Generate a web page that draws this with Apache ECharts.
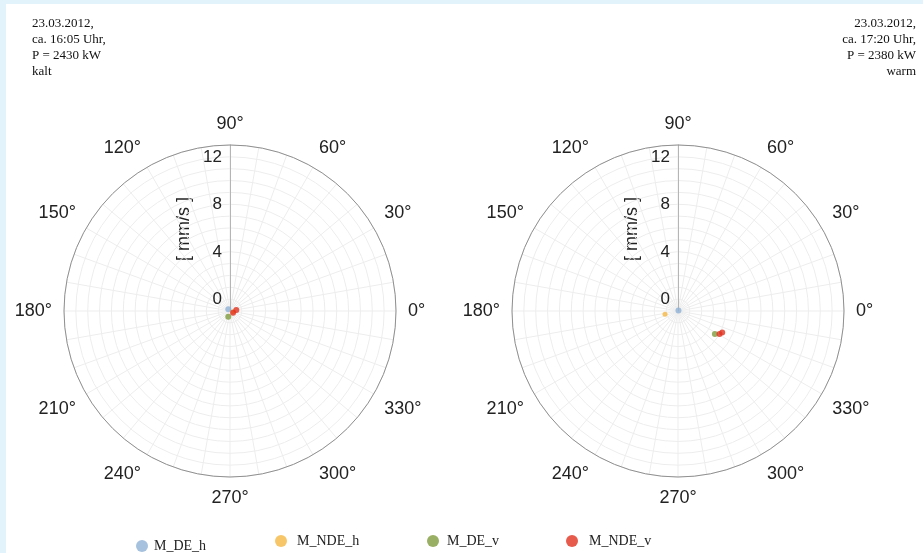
<!DOCTYPE html>
<html>
<head>
<meta charset="utf-8">
<script src="https://cdn.jsdelivr.net/npm/echarts@6/dist/echarts.min.js"></script>
<style>
  html, body { margin: 0; padding: 0; width: 923px; height: 553px; background: #e3f3fb; overflow: hidden; }
  #chart { position: absolute; left: 6px; top: 4px; width: 917px; height: 549px; background: #ffffff; }
</style>
</head>
<body>
<div id="chart"></div>
<script>
// Vibration measurements, polar plots: [radius in mm/s, angle in degrees]
const seriesNames = ['M_DE_h', 'M_NDE_h', 'M_DE_v', 'M_NDE_v'];
const seriesColors = ['#8fb1d6', '#f5b843', '#7f9b3c', '#e0321f'];

// cold state (16:05)
const coldDEh  = [[0.20, 135]];
const coldNDEh = [[0.27, 345]];
const coldDEv  = [[0.50, 253]];
const coldNDEv = [[0.30, 330], [0.54, 10]];

// warm state (17:20)
const warmDEh  = [[0.06, 50]];
const warmNDEh = [[1.13, 194]];
const warmDEv  = [[3.67, 328]];
const warmNDEv = [[4.00, 331], [4.15, 334]];

const radiusTicks = [0, 4, 8, 12];
const angleTickLabels = [0, 30, 60, 90, 120, 150, 180, 210, 240, 270, 300, 330];
const radiusUnit = '[ mm/s ]';

const leftNote = ['23.03.2012,', 'ca. 16:05 Uhr,', 'P = 2430 kW', 'kalt'];
const rightNote = ['23.03.2012,', 'ca. 17:20 Uhr,', 'P = 2380 kW', 'warm'];

// angle axis runs from 90 to 450 so the radius axis stands at 90°
const wrapAngle = a => (a < 90 ? a + 360 : a);
const toPolar = arr => arr.map(p => [p[0], wrapAngle(p[1])]);

const sansFont = 'Liberation Sans, Arial, sans-serif';
const serifFont = 'Liberation Serif, Times New Roman, serif';

const polarCenters = [[224, 307], [672, 307]];
const polarRadius = 166;

function makeAngleAxis(idx) {
  return {
    polarIndex: idx,
    type: 'value',
    min: 90, max: 450, interval: 10,
    startAngle: 90, clockwise: false,
    axisLine: { show: true, lineStyle: { color: '#8f8f8f', width: 1 } },
    axisTick: { show: false },
    axisLabel: {
      show: true, margin: 12, fontSize: 18, color: '#222', fontFamily: sansFont,
      formatter: v => {
        const a = v % 360;
        return angleTickLabels.indexOf(a) >= 0 && v < 450 ? a + '°' : '';
      }
    },
    splitLine: { show: true, lineStyle: { color: '#ededed', width: 1 } }
  };
}
function makeRadiusAxis(idx) {
  return {
    polarIndex: idx,
    type: 'value',
    min: 0, max: 14, interval: 1,
    axisLine: { show: true, lineStyle: { color: '#b5b5b5', width: 1 } },
    axisTick: { show: false },
    axisLabel: {
      show: true, interval: 0, fontSize: 17, color: '#222', fontFamily: sansFont, margin: 8,
      verticalAlign: 'bottom', padding: [0, 0, 3, 0],
      formatter: v => (radiusTicks.indexOf(v) >= 0 ? String(v) : '')
    },
    splitLine: { show: true, lineStyle: { color: '#ededed', width: 1 } }
  };
}

const groups = [
  [coldDEh, coldNDEh, coldDEv, coldNDEv],
  [warmDEh, warmNDEh, warmDEv, warmNDEv]
];
const series = [];
groups.forEach((g, pi) => {
  g.forEach((d, si) => {
    series.push({
      name: seriesNames[si],
      type: 'scatter',
      coordinateSystem: 'polar',
      polarIndex: pi,
      symbol: 'circle',
      symbolSize: si === 1 ? 5 : 6,
      itemStyle: { color: seriesColors[si] },
      data: toPolar(d)
    });
  });
});

// one legend per entry, spread along the bottom
const legendSpots = [
  { left: 130, top: 535, gap: 1 },
  { left: 269, top: 530, gap: 5 },
  { left: 421, top: 530, gap: 3 },
  { left: 560, top: 530, gap: 6 }
];
const legends = seriesNames.map((n, i) => ({
  data: [{ name: n, icon: 'circle' }],
  left: legendSpots[i].left, top: legendSpots[i].top,
  padding: 0, itemWidth: 12, itemHeight: 12, itemGap: 0,
  selectedMode: false,
  textStyle: { fontFamily: serifFont, fontSize: 14, color: '#222', padding: [0, 0, 0, legendSpots[i].gap] }
}));

function noteText(lines, x, align) {
  return {
    type: 'text', left: align === 'left' ? x : null, right: align === 'right' ? x : null, top: 12,
    style: {
      text: lines.join('\n'), font: '13px ' + serifFont, fill: '#111',
      lineHeight: 16, textAlign: align
    }
  };
}
// unit caption beside each radius axis, read bottom to top
function unitText(center) {
  return {
    type: 'text', x: center[0] - 46, y: center[1] - polarRadius / 2 + 1, rotation: Math.PI / 2,
    style: {
      text: radiusUnit, font: '18px ' + sansFont, fill: '#222',
      textAlign: 'center', textVerticalAlign: 'middle'
    }
  };
}

const chart = echarts.init(document.getElementById('chart'));
chart.setOption({
  animation: false,
  polar: polarCenters.map(c => ({ center: c, radius: polarRadius })),
  angleAxis: [makeAngleAxis(0), makeAngleAxis(1)],
  radiusAxis: [makeRadiusAxis(0), makeRadiusAxis(1)],
  legend: legends,
  graphic: [
    noteText(leftNote, 26, 'left'), noteText(rightNote, 7, 'right'),
    unitText(polarCenters[0]), unitText(polarCenters[1])
  ],
  series: series
});
</script>
</body>
</html>
